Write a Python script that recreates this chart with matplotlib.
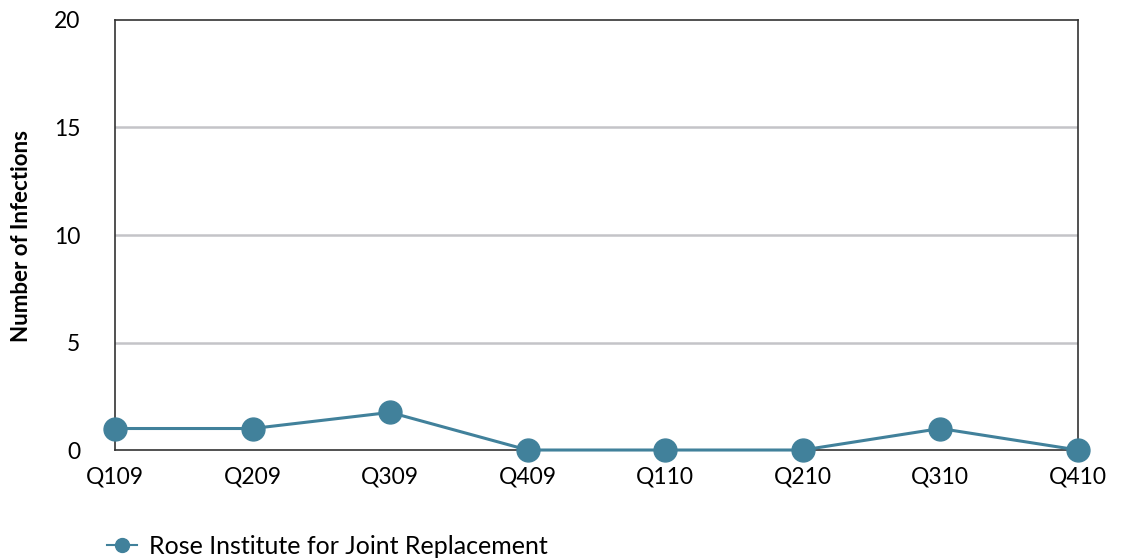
import matplotlib
matplotlib.use("Agg")
import matplotlib.pyplot as plt
from matplotlib.lines import Line2D

quarters = ["Q109", "Q209", "Q309", "Q409", "Q110", "Q210", "Q310", "Q410"]
infections = [1, 1, 1.75, 0, 0, 0, 1, 0]
series_name = "Rose Institute for Joint Replacement"

plt.rcParams['font.family'] = ['Lato', 'DejaVu Sans']

fig = plt.figure(figsize=(11.24, 5.6), dpi=100)
ax = fig.add_axes([0.1023, 0.1964, 0.8567, 0.7679])

color = '#41819b'
x = list(range(len(quarters)))
ax.plot(x, infections, color=color, linewidth=2.2, marker='o', markersize=16.5,
        clip_on=False, zorder=5)

ax.set_xlim(0, len(quarters) - 1)
ax.set_ylim(0, 20)
ax.set_yticks([0, 5, 10, 15, 20])
ax.set_xticks(x)
ax.set_xticklabels(quarters)
ax.tick_params(axis='both', length=0, labelsize=16.5)
ax.tick_params(axis='x', pad=12)
ax.tick_params(axis='y', pad=25)

for v in [5, 10, 15]:
    ax.axhline(v, color='#c4c4c8', linewidth=1.8, zorder=1)

for s in ax.spines.values():
    s.set_color('#333333')
    s.set_linewidth(1.2)

# y label placed by hand so it sits near the left edge like the reference
fig.text(22 / 1124, 1 - 236 / 560, 'Number of Infections', rotation=90,
         ha='center', va='center', fontsize=16, fontweight='bold')

handle = Line2D([0], [0], color=color, linewidth=1.5, marker='o', markersize=10)
fig.legend([handle], [series_name], loc='lower left', bbox_to_anchor=(0.075, -0.037),
           frameon=False, fontsize=18, handlelength=1.2, handletextpad=0.5)

fig.savefig('out.png', dpi=100)
